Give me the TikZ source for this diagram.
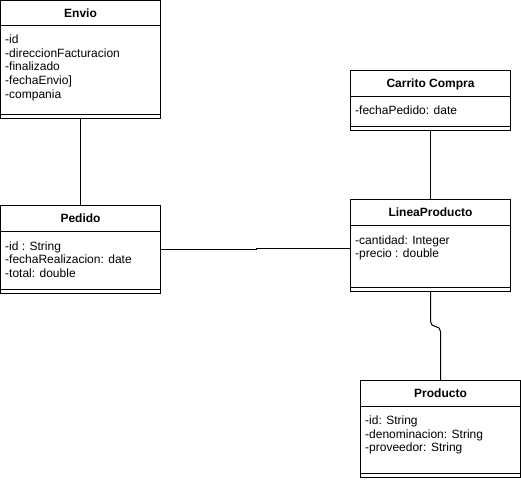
\documentclass[tikz,border=0pt]{standalone}
\usepackage{fontspec}
\setmainfont{Liberation Sans}
\begin{document}
\begin{tikzpicture}[x=1pt,y=-1pt,
  box/.style={draw=black,line width=1pt,fill=white,rectangle,inner sep=0pt,outer sep=0pt,anchor=north west,minimum width=160pt},
  ttl/.style={font=\fontsize{12}{14}\selectfont\bfseries,inner sep=0pt,text height=8.6pt,text depth=0pt,anchor=center},
  attr/.style={font=\fontsize{12}{14}\selectfont,inner sep=0pt,anchor=base west},
  conn/.style={draw=black,line width=1pt}]
\useasboundingbox (0,0) rectangle (521,479);
\fill[white] (0,0) rectangle (521,479);

% Envio
\node[box,minimum height=117.5pt] (envio) at (0.5,0.5) {};
\draw[line width=1pt] ([yshift=-25pt]envio.north west) -- ([yshift=-25pt]envio.north east);
\draw[line width=1pt] ([yshift=4pt]envio.south west) -- ([yshift=4pt]envio.south east);
\node[ttl] (envioT) at (80.5,13) {Envio};
\node[attr] (envio1) at (5,43.5) {-id};
\node[attr] (envio2) at (5,57.2) {-direccionFacturacion};
\node[attr] (envio3) at (5,70.9) {-finalizado};
\node[attr] (envio4) at (5,84.6) {-fechaEnvio]};
\node[attr] (envio5) at (5,98.3) {-compania};

% Pedido
\node[box,minimum height=88pt] (pedido) at (0.5,205.5) {};
\draw[line width=1pt] ([yshift=-26pt]pedido.north west) -- ([yshift=-26pt]pedido.north east);
\draw[line width=1pt] ([yshift=4pt]pedido.south west) -- ([yshift=4pt]pedido.south east);
\node[ttl] (pedidoT) at (80.5,218.5) {Pedido};
\node[attr] (pedido1) at (5,250) {-id : String};
\node[attr] (pedido2) at (5,263.7) {-fechaRealizacion: date};
\node[attr] (pedido3) at (5,277.4) {-total: double};

% Carrito Compra
\node[box,minimum height=59.5pt] (carrito) at (350.5,70.5) {};
\draw[line width=1pt] ([yshift=-26pt]carrito.north west) -- ([yshift=-26pt]carrito.north east);
\draw[line width=1pt] ([yshift=4pt]carrito.south west) -- ([yshift=4pt]carrito.south east);
\node[ttl] (carritoT) at (430.5,83.5) {Carrito Compra};
\node[attr] (carrito1) at (355,114.5) {-fechaPedido: date};

% LineaProducto
\node[box,minimum height=92pt] (linea) at (350.5,199.5) {};
\draw[line width=1pt] ([yshift=-26pt]linea.north west) -- ([yshift=-26pt]linea.north east);
\draw[line width=1pt] ([yshift=4pt]linea.south west) -- ([yshift=4pt]linea.south east);
\node[ttl] (lineaT) at (430.5,212.5) {LineaProducto};
\node[attr] (linea1) at (355,244) {-cantidad: Integer};
\node[attr] (linea2) at (355,257.7) {-precio : double};

% Producto
\node[box,minimum height=97pt] (producto) at (360.5,380.5) {};
\draw[line width=1pt] ([yshift=-26pt]producto.north west) -- ([yshift=-26pt]producto.north east);
\draw[line width=1pt] ([yshift=4pt]producto.south west) -- ([yshift=4pt]producto.south east);
\node[ttl] (productoT) at (440.5,393.5) {Producto};
\node[attr] (producto1) at (365,424.5) {-id: String};
\node[attr] (producto2) at (365,438.2) {-denominacion: String};
\node[attr] (producto3) at (365,451.9) {-proveedor: String};

% connectors
\coordinate (j1) at (256,249.5);
\coordinate (j2) at (256,248.5);
\draw[conn] (envio.south) -- (pedido.north);
\draw[conn] (pedido.east) -- (j1) -- (j2) -- (j2 -| linea.west);
\draw[conn] (carrito.south) -- (linea.north);
\coordinate (b1) at (430.5,326.5);
\coordinate (b2) at (440.5,326.5);
\draw[conn,rounded corners=5pt] (linea.south) -- (b1) -- (b2) -- (producto.north);
\end{tikzpicture}
\end{document}
